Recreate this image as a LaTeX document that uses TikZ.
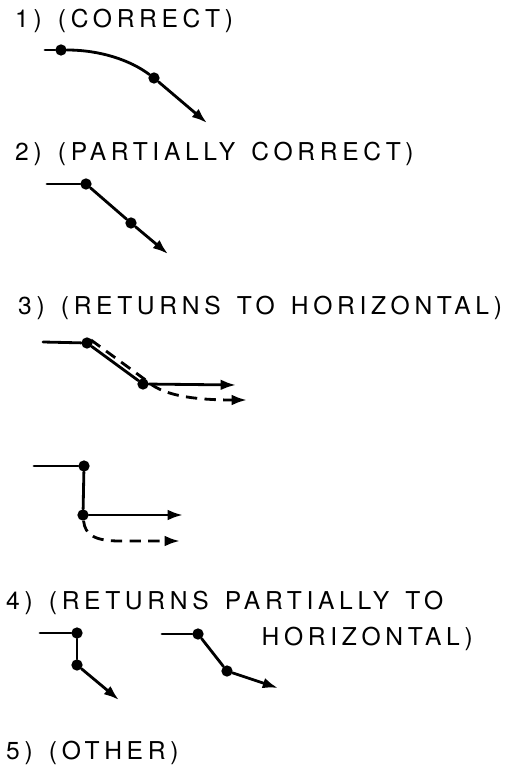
\documentclass[tikz,border=0pt]{standalone}
\usepackage{fontspec}
\newfontfamily\lettering[LetterSpace=19, WordSpace=1.4]{TeX Gyre Heros}
\usetikzlibrary{arrows.meta, calc}

\begin{document}
\begin{tikzpicture}[
  x=0.03cm, y=-0.03cm,
  lbl/.style={anchor=west, inner sep=0pt, font=\lettering\fontsize{21}{24}\selectfont},
  dot/.style={circle, fill=black, inner sep=0pt, minimum size=3.4mm},
  trace/.style={line width=2.4pt, line cap=round},
  tip/.style={trace, -{Latex[length=4.6mm, width=3.2mm]}},
  alt/.style={tip, dash pattern=on 3.4mm off 2.2mm, line cap=butt}
]
\useasboundingbox (0,0) rectangle (506,766);

% --- the five category labels ---
\node[lbl] (t1) at (15,21)  {1) (CORRECT)};
\node[lbl] (t2) at (15,154) {2) (PARTIALLY CORRECT)};
\node[lbl] (t3) at (18,308) {3) (RETURNS TO HORIZONTAL)};
\node[lbl] (t4) at (6,603)  {4) (RETURNS PARTIALLY TO};
\node[lbl, anchor=east] (t4b) at (473,639) {HORIZONTAL)};
\node[lbl] (t5) at (6,753)  {5) (OTHER)};

% --- 1) smooth bend ---
\coordinate (a0) at (45,50);
\node[dot] (a1) at (61,50) {};
\node[dot] (a2) at (154,78) {};
\coordinate (a3) at (207,123);
\draw[trace] (a0) -- (a1);
\draw[trace] (a1) .. controls (100,50) and (130,60) .. (a2);
\draw[tip] (a2) -- (a3);

% --- 2) straight diagonal ---
\coordinate (b0) at (47,184);
\node[dot] (b1) at (86,184) {};
\node[dot] (b2) at (131,223) {};
\coordinate (b3) at (168,254);
\draw[trace] (b0) -- (b1);
\draw[trace] (b1) -- (b2);
\draw[tip] (b2) -- (b3);

% --- 3a) diagonal then level ---
\coordinate (c0) at (43,342);
\node[dot] (c1) at (87,343) {};
\node[dot] (c2) at (143,384) {};
\coordinate (c3) at (236,385);
\coordinate (c4) at (247,400);
\draw[trace] (c0) -- (c1);
\draw[trace] (c1) -- (c2);
\draw[tip] (c2) -- (c3);
% dashed alternative
\draw[alt] ($(c1)+(4,-3)$) -- ($(c2)+(4,-3)$)
  .. controls (160,393) and (185,400) .. (c4);

% --- 3b) drop then level ---
\coordinate (d0) at (34,466);
\node[dot] (d1) at (84,466) {};
\node[dot] (d2) at (83,515) {};
\coordinate (d3) at (183,515);
\coordinate (d4) at (180,541);
\draw[trace] (d0) -- (d1);
\draw[trace] (d1) -- (d2);
\draw[tip] (d2) -- (d3);
\draw[alt] (d2) .. controls (85,535) and (95,541) .. (120,541) -- (d4);

% --- 4a) drop then partial ---
\coordinate (e0) at (40,633);
\node[dot] (e1) at (77,633) {};
\node[dot] (e2) at (77,665) {};
\coordinate (e3) at (119,700);
\draw[trace] (e0) -- (e1);
\draw[trace] (e1) -- (e2);
\draw[tip] (e2) -- (e3);

% --- 4b) diagonal then partial ---
\coordinate (f0) at (162,634);
\node[dot] (f1) at (198,634) {};
\node[dot] (f2) at (227,671) {};
\coordinate (f3) at (278,688);
\draw[trace] (f0) -- (f1);
\draw[trace] (f1) -- (f2);
\draw[tip] (f2) -- (f3);

\end{tikzpicture}
\end{document}
